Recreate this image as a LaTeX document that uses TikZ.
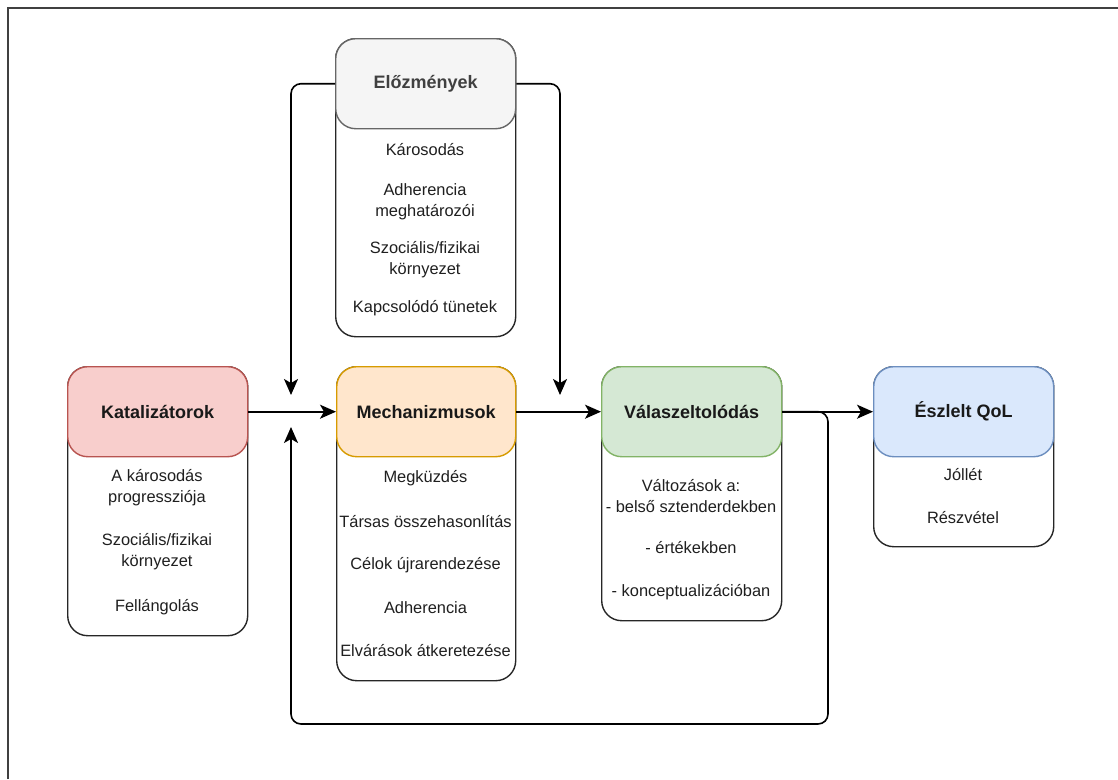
\documentclass[tikz,border=0pt]{standalone}
\usepackage{fontspec}
\setmainfont{Liberation Sans}
\usetikzlibrary{arrows.meta}
\definecolor{redF}{HTML}{F8CECC}\definecolor{redS}{HTML}{B85450}
\definecolor{orF}{HTML}{FFE6CC}\definecolor{orS}{HTML}{D79B00}
\definecolor{grF}{HTML}{D5E8D4}\definecolor{grS}{HTML}{82B366}
\definecolor{blF}{HTML}{DAE8FC}\definecolor{blS}{HTML}{6C8EBF}
\definecolor{gyF}{HTML}{F5F5F5}\definecolor{gyS}{HTML}{666666}
\tikzset{
  bodybox/.style={draw=black!85, fill=white, line width=1.4pt, rounded corners=20pt, anchor=north west, minimum width=180pt, inner sep=0pt},
  headbox/.style={line width=1.4pt, rounded corners=20pt, anchor=north west, minimum width=180pt, minimum height=90pt, inner sep=0pt, font=\fontsize{18}{21}\selectfont\bfseries, text=black!90},
  txt/.style={font=\fontsize{16.4}{21}\selectfont, align=center, text=black!88, inner sep=0pt},
  arr/.style={draw=black, line width=1.6pt, -{Stealth[length=16pt,width=14pt,inset=4pt]}},
  frame/.style={draw=black!75, line width=2pt}
}
\begin{document}
\begin{tikzpicture}[x=1pt,y=-1pt]
\useasboundingbox (0,0) rectangle (1118,779);
\coordinate (fA) at (7.5,779);
\coordinate (fB) at (7.5,8);
\coordinate (fC) at (1118,8);
\draw[frame] (fA) -- (fB) -- (fC);

% Elozmenyek
\node[bodybox, minimum height=298pt] (elozB) at (335,38) {};
\node[headbox, draw=gyS, fill=gyF, text=black!75] (elozH) at (335,38) {Előzmények};
\node[txt] (e1) at (425,150) {Károsodás};
\node[txt] (e2) at (425,202) {Adherencia\\meghatározói};
\node[txt] (e3) at (425,260) {Szociális/fizikai\\környezet};
\node[txt] (e4) at (425,308) {Kapcsolódó tünetek};

% Katalizatorok
\node[bodybox, minimum height=269pt] (katB) at (67,366) {};
\node[headbox, draw=redS, fill=redF] (katH) at (67,366) {Katalizátorok};
\node[txt] (k1) at (157,488) {A károsodás\\progressziója};
\node[txt] (k2) at (157,552) {Szociális/fizikai\\környezet};
\node[txt] (k3) at (157,607) {Fellángolás};

% Mechanizmusok
\node[bodybox, minimum height=314pt, minimum width=179pt] (mechB) at (336,366) {};
\node[headbox, draw=orS, fill=orF, minimum width=179pt] (mechH) at (336,366) {Mechanizmusok};
\node[txt] (m1) at (425.5,478) {Megküzdés};
\node[txt] (m2) at (425.5,522) {Társas összehasonlítás};
\node[txt] (m3) at (425.5,565) {Célok újrarendezése};
\node[txt] (m4) at (425.5,608) {Adherencia};
\node[txt] (m5) at (425.5,651) {Elvárások átkeretezése};

% Valaszeltolodas
\node[bodybox, minimum height=254pt] (valB) at (601,366) {};
\node[headbox, draw=grS, fill=grF] (valH) at (601,366) {Válaszeltolódás};
\node[txt] (v1) at (691,496) {Változások a:\\- belső sztenderdekben};
\node[txt] (v2) at (691,548) {- értékekben};
\node[txt] (v3) at (691,592) {- konceptualizációban};

% Eszlelt QoL
\node[bodybox, minimum height=180pt] (qolB) at (873,366) {};
\node[headbox, draw=blS, fill=blF] (qolH) at (873,366) {Észlelt QoL};
\node[txt] (q1) at (963,475) {Jóllét};
\node[txt] (q2) at (963,518) {Részvétel};

% connectors
\coordinate (inL) at (291,395);
\coordinate (inR) at (560,395);
\coordinate (inB) at (291,427);
\coordinate (fbA) at (828,724);
\draw[arr] (katH.east) -- (mechH.west);
\draw[arr] (mechH.east) -- (valH.west);
\draw[arr] (valH.east) -- (qolH.west);
\draw[arr, rounded corners=10pt] (elozH.west) -| (inL);
\draw[arr, rounded corners=10pt] (elozH.east) -| (inR);
\draw[arr, rounded corners=10pt] (valH.east) -| (fbA) -| (inB);
\end{tikzpicture}
\end{document}
